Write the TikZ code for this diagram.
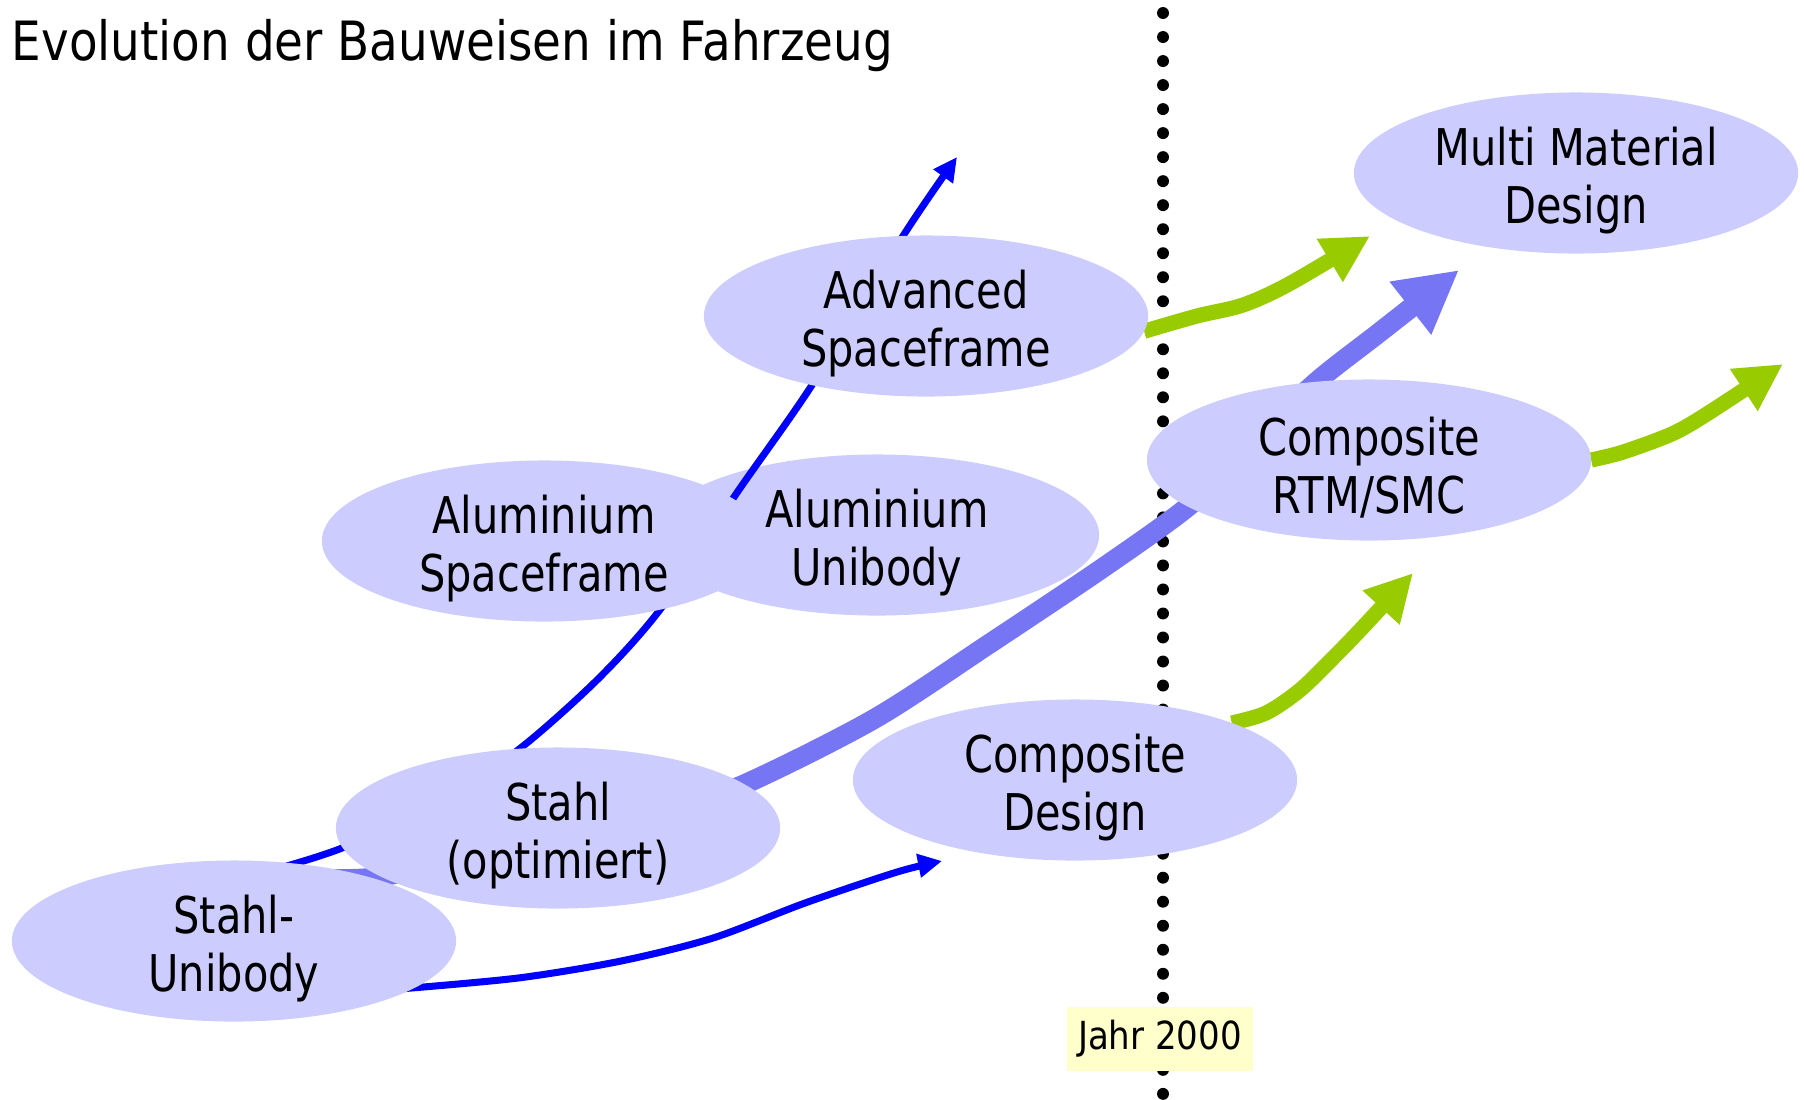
\documentclass[tikz,border=0pt]{standalone}
\usepackage{fontspec}
\setmainfont{DejaVu Sans}[FakeStretch=0.82]
\newfontfamily\widefont{DejaVu Sans}[FakeStretch=0.88]
\newfontfamily\titlefont{DejaVu Sans}[FakeStretch=0.865]
\usetikzlibrary{shapes.geometric,arrows.meta}

\definecolor{lavender}{HTML}{CCCCFF}
\definecolor{pureblue}{HTML}{0000FF}
\definecolor{limegreen}{HTML}{99CC00}
\definecolor{hatchblue}{RGB}{118,118,245}
\definecolor{paleyellow}{HTML}{FFFFCC}

\pgfdeclarelayer{dots}
\pgfdeclarelayer{low}
\pgfdeclarelayer{flows}
\pgfsetlayers{dots,low,flows,main}

% an ellipse with its two-line caption, set slightly below the centre
\newcommand\stagenode[3]{%
  \node[stage] (#1) at (#2) {};
  \node[stagetext] (#1text) at ([yshift=-0.075cm]#1.center) {#3};}

\begin{document}
\begin{tikzpicture}[x=0.01cm,y=-0.01cm,
  stage/.style={ellipse, fill=lavender, minimum width=4.44cm, minimum height=1.61cm,
    inner sep=0pt, outer sep=0pt},
  stagetext/.style={inner sep=0pt, align=center, font=\fontsize{14.4}{16.4}\selectfont},
  blueflow/.style={draw=pureblue, line width=2pt, -{Triangle[length=6.8pt,width=6.5pt]}},
  greenflow/.style={draw=limegreen, line width=4.3pt, -{Triangle[length=13.4pt,width=13.4pt]}},
  hatchflow/.style={draw=hatchblue, line width=5.7pt, -{Triangle[length=17.6pt,width=17.9pt]}},
  divider/.style={line width=3.4pt, line cap=round, dash pattern=on 0pt off 6.83pt},
  yearbox/.style={fill=paleyellow, minimum width=1.86cm, minimum height=0.64cm,
    inner sep=0pt, font=\widefont\fontsize{11}{13}\selectfont}]

\useasboundingbox (0,0) rectangle (1804,1099);

% title
\node[anchor=base west, inner sep=0pt, font=\titlefont\fontsize{15.4}{18}\selectfont] (title) at (11,60)
  {Evolution der Bauweisen im Fahrzeug};

% year 2000 divider
\coordinate (divtop) at (1163,13);
\coordinate (divbot) at (1163,1099);
\begin{pgfonlayer}{dots}
  \draw[divider] (divtop) -- (divbot);
\end{pgfonlayer}

% construction methods
\begin{pgfonlayer}{low}
  \stagenode{aluub}{877,535}{Aluminium\\Unibody}
\end{pgfonlayer}
\stagenode{mmd}{1576,173}{Multi Material\\Design}
\stagenode{advsf}{926,316}{Advanced\\Spaceframe}
\stagenode{alusf}{544,541}{Aluminium\\Spaceframe}
\stagenode{rtm}{1369,460}{Composite\\RTM/SMC}
\stagenode{stopt}{558,828}{Stahl\\(optimiert)}
\stagenode{cdes}{1075,780}{Composite\\Design}
\stagenode{sunib}{234,941}{Stahl-\\Unibody}

% year label
\node[yearbox] (year) at (1160,1039) {Jahr 2000};

% arrow end points
\coordinate (tipAlu)   at (957,157);
\coordinate (tipComp)  at (942,861);
\coordinate (tipMulti) at (1459,270);
\coordinate (tipGreenA) at (1370,236);
\coordinate (tipGreenB) at (1783,364);
\coordinate (tipGreenC) at (1413,573);

\begin{pgfonlayer}{flows}
  % steel to aluminium
  \draw[blueflow] plot[smooth] coordinates {([shift={(0,14)}]sunib.75) (342,848) (440,800)
    (518,750) (598,679) (662,607) (734,497) (812,385) (903,236) (tipAlu)};
  % steel to composite design
  \draw[blueflow] plot[smooth] coordinates {([shift={(-12,0)}]sunib.-15) (518,978) (621,961)
    (713,938) (805,903) (897,872) (tipComp)};
  % steel to multi material design
  \draw[hatchflow] plot[smooth] coordinates {([shift={(0,16)}]sunib.60) (370,878) (460,859)
    (560,837) (660,814) (745,784) (874,719) (989,644) (1104,567) (1190,505) (1250,446)
    (1315,383) (1380,332) (tipMulti)};
  % onward trends
  \draw[greenflow] plot[smooth] coordinates {(advsf.-4) (1197,316) (1243,305)
    (1289,284) (tipGreenA)};
  \draw[greenflow] plot[smooth] coordinates {(rtm.east) (1620,453) (1657,440)
    (1680,430) (1710,412) (tipGreenB)};
  \draw[greenflow] plot[smooth] coordinates {(cdes.20) (1266,713) (1300,690)
    (1335,656) (1363,627) (tipGreenC)};
\end{pgfonlayer}

\end{tikzpicture}
\end{document}
